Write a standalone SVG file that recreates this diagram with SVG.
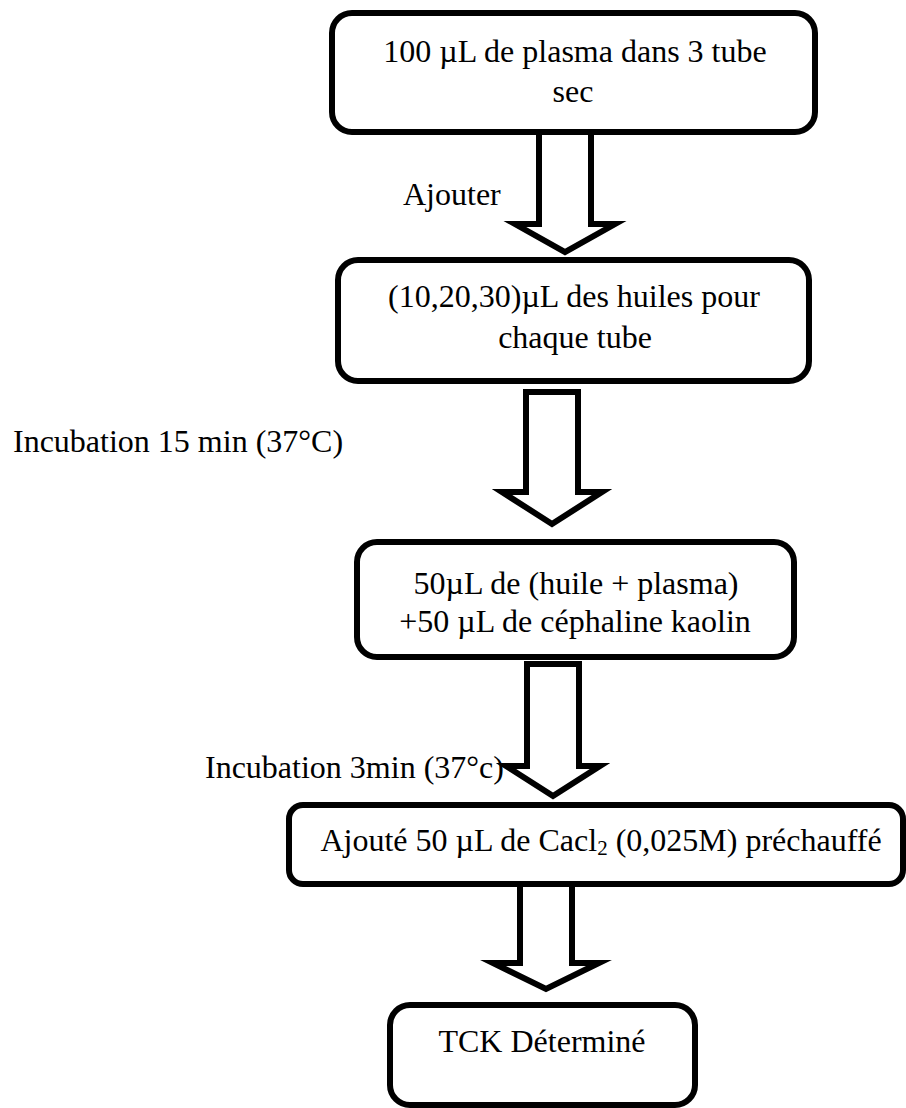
<svg xmlns="http://www.w3.org/2000/svg" width="906" height="1108" viewBox="0 0 906 1108" font-family="'Liberation Serif', 'Times New Roman', serif" font-size="32">
<style>
.box{fill:#fff;stroke:#000;stroke-width:6}
.arr{fill:#fff;stroke:#000;stroke-width:6;stroke-linejoin:miter;stroke-miterlimit:10}
text{font-family:'Liberation Serif','Times New Roman',serif;font-size:32px;fill:#000}
.c{text-anchor:middle}
</style>
<rect width="906" height="1108" fill="#fff"/>
<g id="node1">
<rect class="box" x="332" y="13" width="483" height="119" rx="20"/>
<text class="c" x="575" y="62">100 µL de plasma dans 3 tube</text>
<text class="c" x="573" y="102">sec</text>
</g>
<g id="node2">
<rect class="box" x="338" y="260" width="471" height="121" rx="20"/>
<text class="c" x="574" y="307">(10,20,30)µL des huiles pour</text>
<text class="c" x="575" y="348">chaque tube</text>
</g>
<g id="node3">
<rect class="box" x="357" y="542" width="437" height="115" rx="20"/>
<text class="c" x="576" y="594">50µL de (huile + plasma)</text>
<text class="c" x="575" y="632">+50 µL de céphaline kaolin</text>
</g>
<g id="node4">
<rect class="box" x="289" y="805" width="614" height="79" rx="14"/>
<text class="c" x="601" y="851">Ajouté 50 µL de Cacl<tspan font-size="21" dy="4">2</tspan><tspan dy="-4"> (0,025M) préchauffé</tspan></text>
</g>
<g id="node5">
<rect class="box" x="390" y="1005" width="305" height="100" rx="20"/>
<text class="c" x="542" y="1052">TCK Déterminé</text>
</g>
<g id="connectors">
<path class="arr" d="M539,132 L539,224 L515,224 L565,252 L615,224 L591,224 L591,132 Z"/>
<path class="arr" d="M526,392 L526,492 L502,492 L552,524 L602,492 L578,492 L578,392 Z"/>
<path class="arr" d="M527,664 L527,766 L506,766 L553,796 L600,766 L579,766 L579,664 Z"/>
<path class="arr" d="M520,884 L520,963 L493,963 L546,989 L599,963 L572,963 L572,884 Z"/>
<text x="403" y="205">Ajouter</text>
<text x="13" y="452">Incubation 15 min (37°C)</text>
<text x="205" y="778">Incubation 3min (37°c)</text>
</g>
</svg>
